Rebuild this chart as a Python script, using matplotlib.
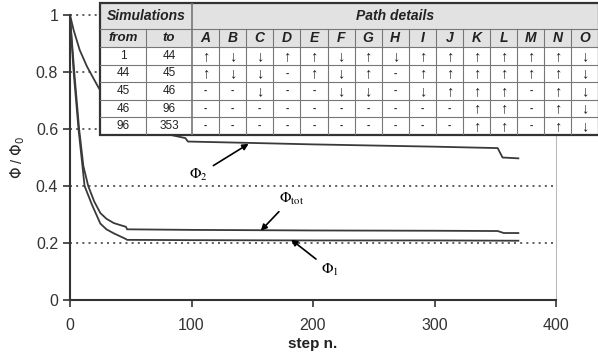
import numpy as np
import matplotlib
matplotlib.use("Agg")
import matplotlib.pyplot as plt
from matplotlib.patches import Rectangle

plt.rcParams["font.family"] = ["Liberation Sans", "DejaVu Sans"]

# curves (step n., phi/phi0)
phi1_steps = [0, 1, 3, 7, 12, 18, 25, 30, 36, 42, 46, 47, 100, 200, 300, 369]
phi1_vals = [1.0, 0.93, 0.80, 0.60, 0.40, 0.335, 0.268, 0.248, 0.234, 0.222, 0.214, 0.211, 0.210, 0.209, 0.209, 0.208]

phitot_steps = [0, 1, 3.5, 7.5, 11, 15, 20, 25, 30, 36, 42, 46, 47, 100, 200, 300, 352, 357, 369]
phitot_vals = [1.0, 0.94, 0.80, 0.60, 0.47, 0.40, 0.345, 0.305, 0.285, 0.27, 0.262, 0.257, 0.248, 0.246, 0.244, 0.243, 0.242, 0.235, 0.235]

phi2_steps = [0, 3, 8, 14, 23, 30, 40, 47, 60, 82, 95, 97, 150, 200, 250, 300, 352, 356, 369]
phi2_vals = [1.0, 0.947, 0.877, 0.819, 0.749, 0.70, 0.655, 0.63, 0.605, 0.58, 0.568, 0.556, 0.551, 0.546, 0.542, 0.538, 0.533, 0.50, 0.497]

# table content
sim_from = ["1", "44", "45", "46", "96"]
sim_to = ["44", "45", "46", "96", "353"]
path_cols = list("ABCDEFGHIJKLMNO")
U, D, N = "\u2191", "\u2193", "-"
path_rows = [
    [U, D, D, U, U, D, U, D, U, U, U, U, U, U, D],
    [U, D, D, N, U, D, U, N, U, U, U, U, U, U, D],
    [N, N, D, N, N, D, D, N, D, U, U, U, N, U, D],
    [N, N, N, N, N, N, N, N, N, N, U, U, N, U, D],
    [N, N, N, N, N, N, N, N, N, N, U, U, N, U, D],
]

fig = plt.figure(figsize=(5.98, 3.56), dpi=100)
ax = fig.add_axes([70 / 598, 1 - 300 / 356, 486 / 598, 285 / 356])

line_c = "#3a3a3a"
ax.plot(phi2_steps, phi2_vals, color=line_c, lw=1.3, clip_on=False, zorder=3)
ax.plot(phitot_steps, phitot_vals, color=line_c, lw=1.3, clip_on=False, zorder=3)
ax.plot(phi1_steps, phi1_vals, color=line_c, lw=1.3, clip_on=False, zorder=3)

ax.set_xlim(0, 400)
ax.set_ylim(0, 1)
ax.set_xticks([0, 100, 200, 300, 400])
ax.set_yticks([0, 0.2, 0.4, 0.6, 0.8, 1.0])
ax.set_yticklabels(["0", "0.2", "0.4", "0.6", "0.8", "1"])
ax.tick_params(labelsize=11.5, length=5, width=1.2, color="#333333", labelcolor="#333333")
ax.tick_params(axis="x", pad=8)

for y in [0.2, 0.4, 0.6, 0.8, 1.0]:
    ax.axhline(y, color="#444444", ls=(0, (1.2, 2.5)), lw=1.2, zorder=1, clip_on=False)

ax.spines["top"].set_visible(False)
ax.spines["right"].set_color("#bbbbbb")
ax.spines["right"].set_linewidth(0.8)
for s in ["left", "bottom"]:
    ax.spines[s].set_color("#333333")
    ax.spines[s].set_linewidth(1.5)

ax.set_xlabel("step n.", fontsize=11, fontweight="bold", labelpad=3, color="#222222")
ax.set_ylabel(r"$\Phi$ / $\Phi_0$", fontsize=10.5, labelpad=6, color="#222222")

arrow = dict(arrowstyle="-|>", color="black", lw=1.2, mutation_scale=9, shrinkA=2, shrinkB=0)
ax.annotate(r"$\Phi_2$", xy=(147, 0.548), xytext=(106, 0.44), fontsize=11,
            math_fontfamily="stix", ha="center", va="center", arrowprops=arrow)
ax.annotate(r"$\Phi_{\mathrm{tot}}$", xy=(157, 0.243), xytext=(182, 0.355), fontsize=11,
            math_fontfamily="stix", ha="center", va="center", arrowprops=arrow)
ax.annotate(r"$\Phi_1$", xy=(182, 0.212), xytext=(214, 0.105), fontsize=11,
            math_fontfamily="stix", ha="center", va="center", arrowprops=arrow)

# table, drawn in its own axes (units = pixels of the table box)
col_w = [46, 46] + [27.1] * len(path_cols)
row_h = [26, 18] + [17.6] * len(sim_from)
tw, th = sum(col_w), sum(row_h)
tax = fig.add_axes([100 / 598, 1 - (3 + th) / 356, tw / 598, th / 356])
tax.set_xlim(0, tw)
tax.set_ylim(th, 0)
tax.axis("off")
tax.set_zorder(5)

xs = np.concatenate([[0], np.cumsum(col_w)])
ys = np.concatenate([[0], np.cumsum(row_h)])
grey = "#e2e2e2"
grid_c = "#777777"

tax.add_patch(Rectangle((0, 0), tw, ys[2], facecolor=grey, edgecolor="none"))
tax.add_patch(Rectangle((0, ys[2]), tw, th - ys[2], facecolor="white", edgecolor="none"))

hfont = dict(fontweight="bold", fontstyle="italic", color="#222222", ha="center", va="center")
tax.text((xs[0] + xs[2]) / 2, row_h[0] / 2, "Simulations", fontsize=10, **hfont)
tax.text((xs[2] + xs[-1]) / 2, row_h[0] / 2, "Path details", fontsize=10, **hfont)
tax.text((xs[0] + xs[1]) / 2, (ys[1] + ys[2]) / 2, "from", fontsize=9.5, **hfont)
tax.text((xs[1] + xs[2]) / 2, (ys[1] + ys[2]) / 2, "to", fontsize=9.5, **hfont)
for j, c in enumerate(path_cols):
    tax.text((xs[j + 2] + xs[j + 3]) / 2, (ys[1] + ys[2]) / 2, c, fontsize=10, **hfont)

for i in range(len(sim_from)):
    yc = (ys[i + 2] + ys[i + 3]) / 2
    tax.text((xs[0] + xs[1]) / 2, yc, sim_from[i], fontsize=8.5, ha="center", va="center", color="#222222")
    tax.text((xs[1] + xs[2]) / 2, yc, sim_to[i], fontsize=8.5, ha="center", va="center", color="#222222")
    for j, v in enumerate(path_rows[i]):
        tax.text((xs[j + 2] + xs[j + 3]) / 2, yc, v, fontsize=10.5 if v != N else 7,
                 fontweight="bold" if v == N else "normal",
                 ha="center", va="center", color="#222222")

# grid lines
for y in ys[1:-1]:
    tax.plot([0, tw], [y, y], color=grid_c, lw=0.8)
for k, x in enumerate(xs[1:-1], start=1):
    top = ys[1] if k != 2 else 0
    tax.plot([x, x], [top, th], color=grid_c, lw=1.2 if k == 2 else 0.8)
tax.add_patch(Rectangle((0, 0), tw, th, facecolor="none", edgecolor="#333333", lw=1.6, clip_on=False))

fig.savefig("out.png", dpi=100)
